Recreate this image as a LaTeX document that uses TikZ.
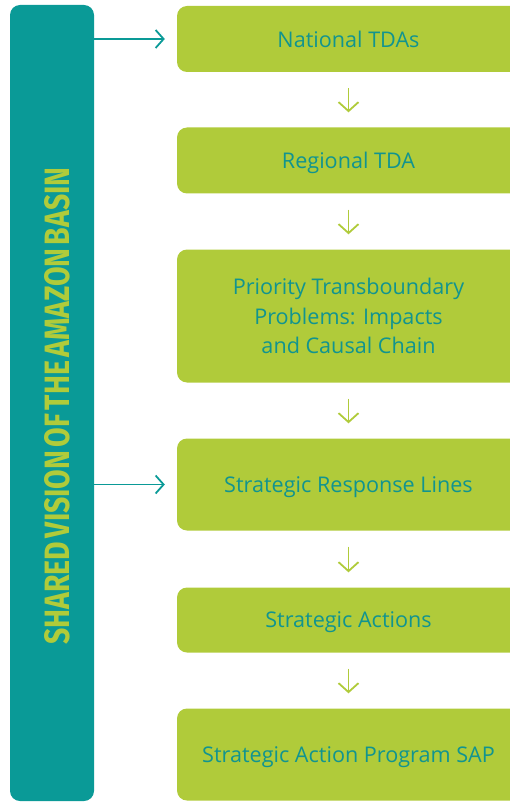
\documentclass[tikz,border=0pt]{standalone}
\usepackage{fontspec}
\setmainfont{Open Sans}
\newfontfamily\bannerfont{Fira Sans}
\usetikzlibrary{positioning,arrows.meta}
\definecolor{amazonteal}{HTML}{0A9A97}
\definecolor{leafgreen}{HTML}{B0CB3A}
\definecolor{stagetext}{HTML}{11948F}

\begin{document}
\begin{tikzpicture}[x=1pt,y=-1pt,
    stage/.style={rectangle,rounded corners=10pt,fill=leafgreen,text=stagetext,
        minimum width=343pt,inner sep=0pt,align=center,
        font=\fontsize{21.6}{29.5}\selectfont},
    oneline/.style={stage,text depth=0pt},
    flow/.style={draw=leafgreen,line width=1.8pt,
        -{Straight Barb[length=9pt,width=20pt,line width=1.8pt]},
        shorten <=16pt,shorten >=15pt},
    feed/.style={draw=amazonteal,line width=1.8pt,
        -{Straight Barb[length=8pt,width=18pt,line width=1.8pt]},
        shorten >=12pt}]
        \useasboundingbox (0,0) rectangle (510,802);
        \clip (0,0) rectangle (510,802);
        % left bar
        \node[rectangle,rounded corners=10pt,fill=amazonteal,minimum width=84pt,minimum height=796pt,inner sep=0pt] (vision) at (52,403){};
        \node[rotate=90,text=leafgreen,inner sep=0pt] (visiontext) at (57.5,406)
            {\resizebox{477pt}{25pt}{\bannerfont\bfseries\spaceskip=0.12em SHARED VISION OF THE AMAZON BASIN}};
        % stages
        \node[oneline,minimum height=66pt] (national) at (348.5,39){National TDAs};
        \node[oneline,minimum height=66pt] (regional) at (348.5,160.5){Regional TDA};
        \node[stage,minimum height=133pt] (problems) at (348.5,316){Priority Transboundary\\Problems: Impacts\\and Causal Chain};
        \node[oneline,minimum height=92pt] (lines) at (348.5,484.5){Strategic Response Lines};
        \node[oneline,minimum height=65pt] (actions) at (348.5,620){Strategic Actions};
        \node[oneline,minimum height=92pt] (sap) at (348.5,754.5){Strategic Action Program SAP};
        % arrows
        \draw[flow] (national) -- (regional);
        \draw[flow] (regional) -- (problems);
        \draw[flow] (problems) -- (lines);
        \draw[flow] (lines) -- (actions);
        \draw[flow] (actions) -- (sap);
        \draw[feed] (vision.east |- national.west) -- (national.west);
        \draw[feed] (vision.east |- lines.west) -- (lines.west);
\end{tikzpicture}
\end{document}
